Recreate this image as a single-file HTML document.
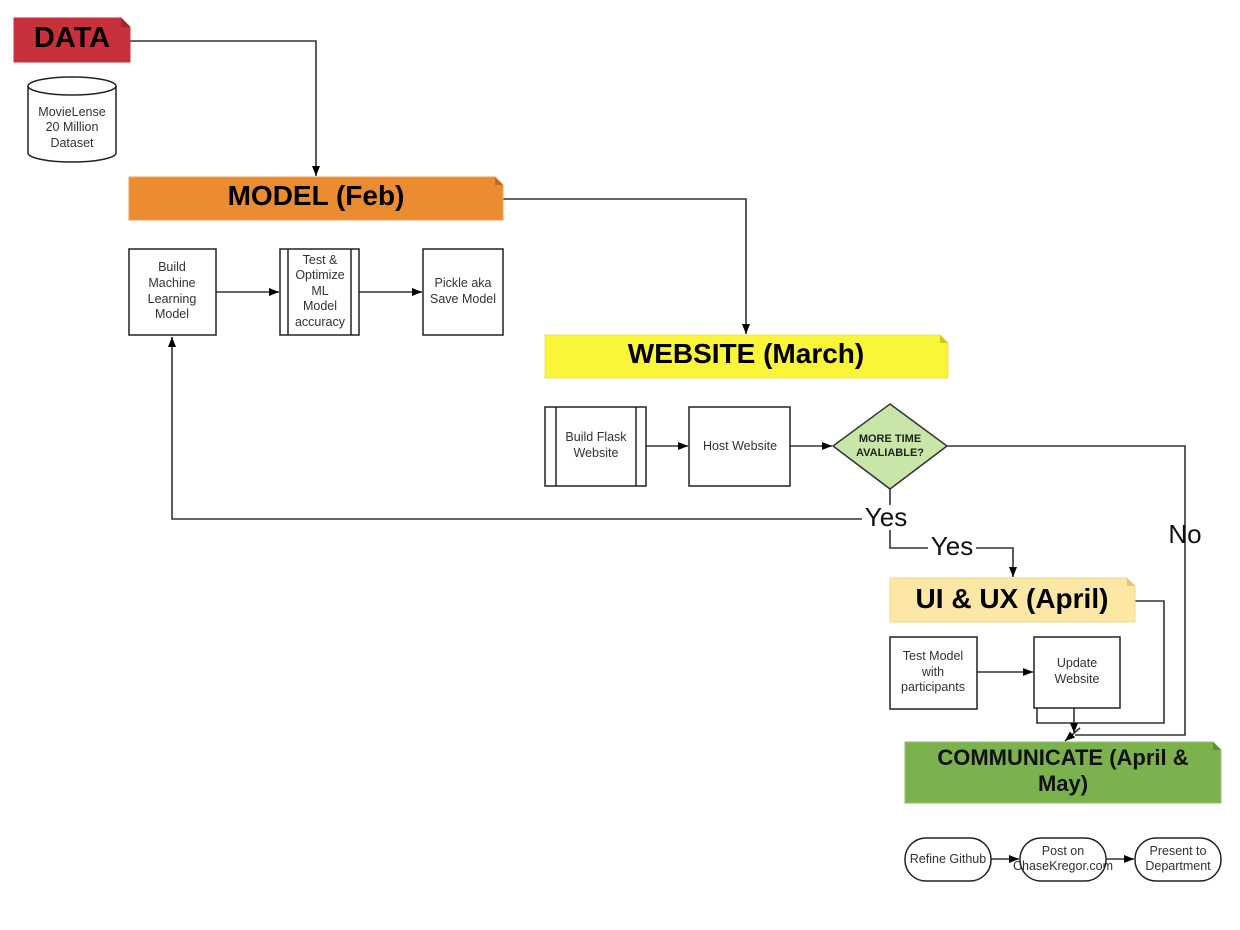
<!DOCTYPE html>
<html><head><meta charset="utf-8"><style>
html,body{margin:0;padding:0;background:#fff;}
svg{display:block;font-family:"Liberation Sans",sans-serif;}
</style></head><body>
<svg width="1240" height="930" viewBox="0 0 1240 930" xmlns="http://www.w3.org/2000/svg">
<defs>
<marker id="a" markerWidth="10" markerHeight="8" refX="10" refY="4" orient="auto" markerUnits="userSpaceOnUse">
<path d="M0,0 L10,4 L0,8 z" fill="#000"/></marker>
</defs>
<g fill="none" stroke="#333" stroke-width="1.6">
<!-- DATA to MODEL -->
<polyline points="130,41 316,41 316,176" marker-end="url(#a)"/>
<!-- MODEL to WEBSITE -->
<polyline points="503,199 746,199 746,334" marker-end="url(#a)"/>
<line x1="216" y1="292" x2="279" y2="292" marker-end="url(#a)"/>
<line x1="359" y1="292" x2="422" y2="292" marker-end="url(#a)"/>
<line x1="646" y1="446" x2="688" y2="446" marker-end="url(#a)"/>
<line x1="790" y1="446" x2="832" y2="446" marker-end="url(#a)"/>
<!-- No path -->
<polyline points="947,446 1185,446 1185,735 1075,735"/>
<!-- Yes loop -->
<polyline points="890,489 890,505"/>
<polyline points="862,519 172,519 172,337" marker-end="url(#a)"/>
<polyline points="890,530 890,548 928,548"/>
<polyline points="976,548 1013,548 1013,577" marker-end="url(#a)"/>
<!-- UI path -->
<polyline points="1135,601 1164,601 1164,723 1037,723 1037,708"/>
<line x1="977" y1="672" x2="1033" y2="672" marker-end="url(#a)"/>
<line x1="1074" y1="708" x2="1074" y2="733" marker-end="url(#a)"/>
<line x1="1080" y1="728" x2="1065" y2="741" marker-end="url(#a)"/>
<line x1="991" y1="859" x2="1019" y2="859" marker-end="url(#a)"/>
<line x1="1106" y1="859" x2="1134" y2="859" marker-end="url(#a)"/>
</g>
<!-- DATA -->
<path d="M14,18 H121 L130,27 V62 H14 Z" fill="#c8303c" stroke="#c8303c"/>
<path d="M121,18 L130,27 H121 Z" fill="#a02530"/>
<text x="72" y="47" font-size="29" font-weight="bold" text-anchor="middle">DATA</text>
<!-- cylinder -->
<g stroke="#222" stroke-width="1.5" fill="#fff">
<path d="M28,86 V153 A44,9 0 0 0 116,153 V86"/>
<ellipse cx="72" cy="86" rx="44" ry="9"/>
</g>
<g font-size="12.5" fill="#333" text-anchor="middle">
<text x="72" y="116">MovieLense</text><text x="72" y="131">20 Million</text><text x="72" y="147">Dataset</text>
</g>
<!-- MODEL -->
<path d="M129,177 H495 L503,185 V220 H129 Z" fill="#ec8c31" stroke="#e8a060"/>
<path d="M495,177 L503,185 H495 Z" fill="#c06a20"/>
<text x="316" y="205" font-size="28" font-weight="bold" text-anchor="middle">MODEL (Feb)</text>
<g stroke="#222" stroke-width="1.5" fill="#fff">
<rect x="129" y="249" width="87" height="86"/>
<rect x="280" y="249" width="79" height="86"/>
<line x1="288" y1="249" x2="288" y2="335"/><line x1="351" y1="249" x2="351" y2="335"/>
<rect x="423" y="249" width="80" height="86"/>
</g>
<g font-size="12.5" fill="#333" text-anchor="middle">
<text x="172" y="271">Build</text><text x="172" y="287">Machine</text><text x="172" y="303">Learning</text><text x="172" y="318">Model</text>
<text x="320" y="264">Test &amp;</text><text x="320" y="279">Optimize</text><text x="320" y="295">ML</text><text x="320" y="310">Model</text><text x="320" y="326">accuracy</text>
<text x="463" y="287">Pickle aka</text><text x="463" y="303">Save Model</text>
</g>
<!-- WEBSITE -->
<path d="M545,335 H940 L948,343 V378 H545 Z" fill="#fbf53a" stroke="#e8e070"/>
<path d="M940,335 L948,343 H940 Z" fill="#d0c820"/>
<text x="746" y="363" font-size="28" font-weight="bold" text-anchor="middle">WEBSITE (March)</text>
<g stroke="#222" stroke-width="1.5" fill="#fff">
<rect x="545" y="407" width="101" height="79"/>
<line x1="556" y1="407" x2="556" y2="486"/><line x1="636" y1="407" x2="636" y2="486"/>
<rect x="689" y="407" width="101" height="79"/>
</g>
<polygon points="890,404 947,446 890,489 833,446" fill="#c8e6a8" stroke="#333" stroke-width="1.5"/>
<g font-size="12.5" fill="#333" text-anchor="middle">
<text x="596" y="441">Build Flask</text><text x="596" y="457">Website</text>
<text x="740" y="450">Host Website</text>
</g>
<g font-size="11" font-weight="bold" fill="#222" text-anchor="middle">
<text x="890" y="442">MORE TIME</text><text x="890" y="456">AVALIABLE?</text>
</g>
<g font-size="26" fill="#111" text-anchor="middle">
<text x="886" y="526">Yes</text>
<text x="952" y="555">Yes</text>
<text x="1185" y="543">No</text>
</g>
<!-- UI -->
<path d="M890,578 H1127 L1135,586 V622 H890 Z" fill="#fde7a5" stroke="#f0d890"/>
<path d="M1127,578 L1135,586 H1127 Z" fill="#e0c880"/>
<text x="1012" y="608" font-size="28" font-weight="bold" text-anchor="middle">UI &amp; UX (April)</text>
<g stroke="#222" stroke-width="1.5" fill="#fff">
<rect x="890" y="637" width="87" height="72"/>
<rect x="1034" y="637" width="86" height="71"/>
</g>
<g font-size="12.5" fill="#333" text-anchor="middle">
<text x="933" y="660">Test Model</text><text x="933" y="676">with</text><text x="933" y="691">participants</text>
<text x="1077" y="667">Update</text><text x="1077" y="683">Website</text>
</g>
<!-- COMMUNICATE -->
<path d="M905,742 H1213 L1221,750 V803 H905 Z" fill="#7bb24e" stroke="#90c070"/>
<path d="M1213,742 L1221,750 H1213 Z" fill="#5a9030"/>
<g font-size="22" font-weight="bold" fill="#111" text-anchor="middle">
<text x="1063" y="765">COMMUNICATE (April &amp;</text><text x="1063" y="791">May)</text>
</g>
<g stroke="#222" stroke-width="1.5" fill="#fff">
<rect x="905" y="838" width="86" height="43" rx="21"/>
<rect x="1020" y="838" width="86" height="43" rx="21"/>
<rect x="1135" y="838" width="86" height="43" rx="21"/>
</g>
<g font-size="12.5" fill="#333" text-anchor="middle">
<text x="948" y="863">Refine Github</text>
<text x="1063" y="855">Post on</text><text x="1063" y="870">ChaseKregor.com</text>
<text x="1178" y="855">Present to</text><text x="1178" y="870">Department</text>
</g>
</svg>
</body></html>
